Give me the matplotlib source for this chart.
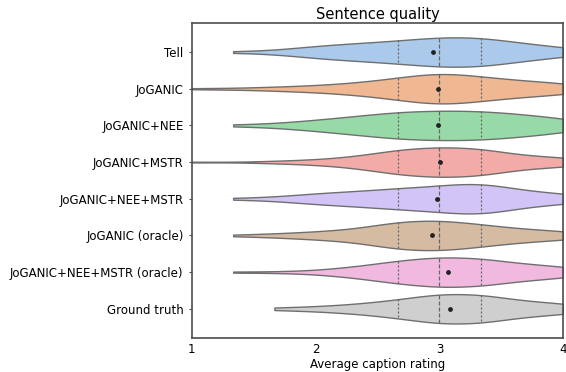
import numpy as np
import pandas as pd
import matplotlib
matplotlib.use("Agg")
import matplotlib.pyplot as plt
import seaborn as sns

# Modelos evaluados (eje y)
modelos = ["Tell", "JoGANIC", "JoGANIC+NEE", "JoGANIC+MSTR", "JoGANIC+NEE+MSTR",
           "JoGANIC (oracle)", "JoGANIC+NEE+MSTR (oracle)", "Ground truth"]

# Niveles posibles de la nota media (media de 3 notas de 1 a 4)
niveles = [1, 4/3, 5/3, 2, 7/3, 8/3, 3, 10/3, 11/3, 4]

# Conteos por nivel, estimados de la figura
conteos_tell = [0, 1, 2, 8, 11, 14, 19, 19, 11, 6]
conteos_joganic = [1, 1, 3, 5, 9, 16, 26, 18, 12, 9]
conteos_nee = [0, 1, 2, 6, 10, 15, 16, 16, 12, 8]
conteos_mstr = [1, 0, 2, 4, 9, 20, 24, 22, 10, 8]
conteos_nee_mstr = [0, 1, 2, 7, 9, 13, 15, 22, 9, 7]
conteos_oracle = [0, 1, 3, 6, 10, 22, 24, 17, 10, 7]
conteos_nee_mstr_oracle = [0, 1, 1, 3, 9, 18, 24, 22, 13, 9]
conteos_gt = [0, 0, 2, 4, 8, 15, 25, 24, 13, 9]

todos = [conteos_tell, conteos_joganic, conteos_nee, conteos_mstr, conteos_nee_mstr,
         conteos_oracle, conteos_nee_mstr_oracle, conteos_gt]

filas = []
for modelo, conteos in zip(modelos, todos):
    for v in np.repeat(niveles, conteos):
        filas.append({"modelo": modelo, "rating": v})
df = pd.DataFrame(filas)

plt.rcParams["font.family"] = "DejaVu Sans"
plt.rcParams["font.size"] = 8.5

fig = plt.figure(figsize=(5.66, 3.72), dpi=100)
ax = fig.add_axes([0.339, 0.092, 0.656, 0.846])

sns.violinplot(data=df, x="rating", y="modelo", hue="modelo", order=modelos,
               palette="pastel", cut=0, inner="quart", orient="h",
               linewidth=1.0, inner_kws=dict(linewidth=0.9, color="0.4"),
               legend=False, ax=ax)

# Cuartiles: guiones cortos, mediana: guiones largos
for i, linea in enumerate(ax.lines):
    if i % 3 == 1:
        linea.set_linestyle((0, (3.2, 1.6)))
    else:
        linea.set_linestyle((0, (1.6, 1.6)))

medias = df.groupby("modelo")["rating"].mean().reindex(modelos)
ax.scatter(medias.values, np.arange(len(modelos)), marker="o", s=6,
           color="#222222", zorder=5)

ax.set_xlim(1, 4)
ax.set_xticks([1, 2, 3, 4])
ax.tick_params(axis="x", length=0, pad=4)
ax.tick_params(axis="y", length=2.5, width=0.8, color="0.3")
for sp in ax.spines.values():
    sp.set_color("0.3")
    sp.set_linewidth(1.2)
ax.set_xlabel("Average caption rating", labelpad=1)
ax.set_ylabel("")
ax.set_title("Sentence quality", fontsize=10.5, pad=3)

fig.savefig("out.png", dpi=100)
